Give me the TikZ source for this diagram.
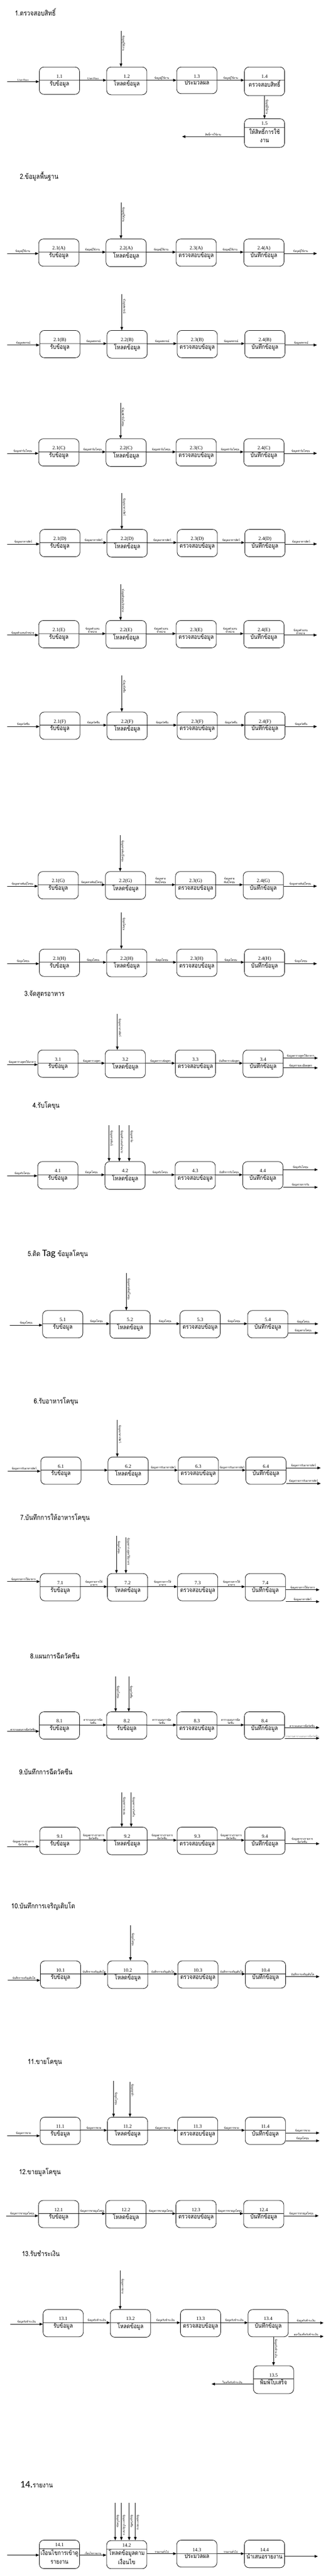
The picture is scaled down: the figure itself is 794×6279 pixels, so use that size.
\documentclass[tikz,border=0pt]{standalone}
\usepackage{fontspec}
\setmainfont{Liberation Serif}
\newfontfamily\thaifont[Script=Thai,FakeStretch=0.85]{Loma}
\newfontfamily\tagfont{Carlito}
\usetikzlibrary{shapes.multipart,arrows.meta}

\newcommand\tRcv{รับข้อมูล}
\newcommand\tLoad{โหลดข้อมูล}
\newcommand\tChk{ตรวจสอบข้อมูล}
\newcommand\tSave{บันทึกข้อมูล}
\newcommand\numfont{\rmfamily\fontsize{12}{14}\selectfont}
\newcommand\numpart[1]{\rule[-5bp]{0pt}{31bp}{\numfont #1}}
\newcommand\numshort[1]{\rule[-5bp]{0pt}{20bp}{\numfont #1}}
\newcommand\numtall[1]{\rule[-5bp]{0pt}{32bp}{\numfont #1}}
\newcommand\txtpart[1]{\rule[-21bp]{0pt}{17bp}#1}
\newcommand\txttwo[2]{\rule[-32bp]{0pt}{17bp}\begin{tabular}[t]{@{}c@{}}#1\\#2\end{tabular}}
\newcommand\fourproc[4]{%
  \foreach \pnum/\ptxt [count=\i] in {#4} {
    \pgfmathsetmacro\cx{#2+{145,309,480,645}[\i-1]}
    \node[proc] (#1\i) at (\cx,#3) {\numpart{\pnum}\nodepart{two}\txtpart{\ptxt}};
  }}
\newcommand\chain[4]{%
  \draw[flow] (#11.text split east) -- (#12.text split west) node[lbl] {#2};
  \draw[flow] (#12.text split east) -- (#13.text split west) node[lbl] {#3};
  \draw[flow] (#13.text split east) -- (#14.text split west) node[lbl] {#4};}

\begin{document}
\begin{tikzpicture}[x=1bp, y=-1bp,
    >={Triangle[length=8bp,width=6.5bp]},
    proc/.style={rectangle split, rectangle split parts=2, draw, line width=1bp,
      rounded corners=11bp, minimum width=98bp, inner xsep=2bp, inner ysep=0bp,
      anchor=north, font=\thaifont\fontsize{15}{21}\selectfont},
    flow/.style={->, line width=1bp},
    lbl/.style={midway, above, inner sep=1bp, align=center, font=\thaifont\fontsize{7}{8}\selectfont},
    vlbl/.style={pos=0.12, rotate=-90, anchor=south west, inner sep=1.5bp, font=\thaifont\fontsize{7}{8}\selectfont},
    ttl/.style={anchor=west, font=\thaifont\fontsize{17}{20}\selectfont}]
\useasboundingbox (0,0) rectangle (794,6279);

% 1. ตรวจสอบสิทธิ์
\node[ttl] (title1) at (33,30) {1.ตรวจสอบสิทธิ์};
\fourproc{auth}{0}{163}{1.1/\tRcv,1.2/\tLoad,1.3/ประมวลผล,1.4/ตรวจสอบสิทธิ์}
\node[proc] (auth5) at (645,289) {\numshort{1.5}\nodepart{two}\txttwo{ให้สิทธิ์การใช้}{งาน}};
\coordinate (authIn) at (17,199);
\coordinate (authFeed) at (295,75);
\coordinate (authOut) at (444,333);
\draw[flow] (authIn) -- (authIn -| auth1.west) node[lbl] {\rmfamily User/Pass};
\chain{auth}{\rmfamily User/Pass}{ข้อมูลผู้ใช้งาน}{ข้อมูลผู้ใช้งาน}
\draw[flow] (authFeed) -- (authFeed |- auth2.north) node[vlbl] {ข้อมูลผู้ใช้งาน};
\draw[flow] (auth4.south) -- (auth5.north) node[vlbl] {ข้อมูลผู้ใช้งาน};
\draw[flow] (authOut -| auth5.west) -- (authOut) node[lbl] {สิทธิ์การใช้งาน};

% 2. ข้อมูลพื้นฐาน
\node[ttl] (title2) at (45,430) {2.ข้อมูลพื้นฐาน};
\fourproc{user}{-1.5}{582}{2.1(A)/\tRcv,2.2(A)/\tLoad,2.3(A)/\tChk,2.4(A)/\tSave}
\coordinate (userIn) at (17,618);
\coordinate (userFeed) at (295,493);
\coordinate (userOut) at (773,618);
\draw[flow] (userIn) -- (userIn -| user1.west) node[lbl] {ข้อมูลผู้ใช้งาน};
\chain{user}{ข้อมูลผู้ใช้งาน}{ข้อมูลผู้ใช้งาน}{ข้อมูลผู้ใช้งาน}
\draw[flow] (userOut -| user4.east) -- (userOut) node[lbl] {ข้อมูลผู้ใช้งาน};
\draw[flow] (userFeed) -- (userFeed |- user2.north) node[vlbl] {ข้อมูลผู้ใช้งาน};

\fourproc{coop}{1}{805}{2.1(B)/\tRcv,2.2(B)/\tLoad,2.3(B)/\tChk,2.4(B)/\tSave}
\coordinate (coopIn) at (17,841);
\coordinate (coopFeed) at (297,717);
\coordinate (coopOut) at (773,841);
\draw[flow] (coopIn) -- (coopIn -| coop1.west) node[lbl] {ข้อมูลสหกรณ์};
\chain{coop}{ข้อมูลสหกรณ์}{ข้อมูลสหกรณ์}{ข้อมูลสหกรณ์}
\draw[flow] (coopOut -| coop4.east) -- (coopOut) node[lbl] {ข้อมูลสหกรณ์};
\draw[flow] (coopFeed) -- (coopFeed |- coop2.north) node[vlbl] {ข้อมูลสหกรณ์};

\fourproc{farm}{-1.5}{1069}{2.1(C)/\tRcv,2.2(C)/\tLoad,2.3(C)/\tChk,2.4(C)/\tSave}
\coordinate (farmIn) at (17,1105);
\coordinate (farmFeed) at (294,982);
\coordinate (farmOut) at (773,1105);
\draw[flow] (farmIn) -- (farmIn -| farm1.west) node[lbl] {ข้อมูลฟาร์มโคขุน};
\chain{farm}{ข้อมูลฟาร์มโคขุน}{ข้อมูลฟาร์มโคขุน}{ข้อมูลฟาร์มโคขุน}
\draw[flow] (farmOut -| farm4.east) -- (farmOut) node[lbl] {ข้อมูลฟาร์มโคขุน};
\draw[flow] (farmFeed) -- (farmFeed |- farm2.north) node[vlbl] {ข้อมูลฟาร์มโคขุน};

\fourproc{fodder}{1}{1290}{2.1(D)/\tRcv,2.2(D)/\tLoad,2.3(D)/\tChk,2.4(D)/\tSave}
\coordinate (fodderIn) at (17,1326);
\coordinate (fodderFeed) at (297,1202);
\coordinate (fodderOut) at (773,1326);
\draw[flow] (fodderIn) -- (fodderIn -| fodder1.west) node[lbl] {ข้อมูลอาหารสัตว์};
\chain{fodder}{ข้อมูลอาหารสัตว์}{ข้อมูลอาหารสัตว์}{ข้อมูลอาหารสัตว์}
\draw[flow] (fodderOut -| fodder4.east) -- (fodderOut) node[lbl] {ข้อมูลอาหารสัตว์};
\draw[flow] (fodderFeed) -- (fodderFeed |- fodder2.north) node[vlbl] {ข้อมูลอาหารสัตว์};

\fourproc{dealer}{-1.5}{1512}{2.1(E)/\tRcv,2.2(E)/\tLoad,2.3(E)/\tChk,2.4(E)/\tSave}
\coordinate (dealerIn) at (17,1548);
\coordinate (dealerFeed) at (294,1424);
\coordinate (dealerOut) at (773,1548);
\draw[flow] (dealerIn) -- (dealerIn -| dealer1.west) node[lbl] {ข้อมูลตัวแทนจำหน่าย};
\chain{dealer}{ข้อมูลตัวแทน\\จำหน่าย}{ข้อมูลตัวแทน\\จำหน่าย}{ข้อมูลตัวแทน\\จำหน่าย}
\draw[flow] (dealerOut -| dealer4.east) -- (dealerOut) node[lbl] {ข้อมูลตัวแทน\\จำหน่าย};
\draw[flow] (dealerFeed) -- (dealerFeed |- dealer2.north) node[vlbl] {ข้อมูลตัวแทนจำหน่าย};

\fourproc{vacc}{1}{1735}{2.1(F)/\tRcv,2.2(F)/\tLoad,2.3(F)/\tChk,2.4(F)/\tSave}
\coordinate (vaccIn) at (17,1771);
\coordinate (vaccFeed) at (297,1646);
\coordinate (vaccOut) at (773,1771);
\draw[flow] (vaccIn) -- (vaccIn -| vacc1.west) node[lbl] {ข้อมูลวัคซีน};
\chain{vacc}{ข้อมูลวัคซีน}{ข้อมูลวัคซีน}{ข้อมูลวัคซีน}
\draw[flow] (vaccOut -| vacc4.east) -- (vaccOut) node[lbl] {ข้อมูลวัคซีน};
\draw[flow] (vaccFeed) -- (vaccFeed |- vacc2.north) node[vlbl] {ข้อมูลวัคซีน};

\fourproc{breed}{-3}{2124}{2.1(G)/\tRcv,2.2(G)/\tLoad,2.3(G)/\tChk,2.4(G)/\tSave}
\coordinate (breedIn) at (17,2160);
\coordinate (breedFeed) at (293,2036);
\coordinate (breedOut) at (773,2160);
\draw[flow] (breedIn) -- (breedIn -| breed1.west) node[lbl] {ข้อมูลสายพันธุ์โคขุน};
\chain{breed}{ข้อมูลสายพันธุ์โคขุน}{ข้อมูลสาย\\พันธุ์โคขุน}{ข้อมูลสาย\\พันธุ์โคขุน}
\draw[flow] (breedOut -| breed4.east) -- (breedOut) node[lbl] {ข้อมูลสายพันธุ์โคขุน};
\draw[flow] (breedFeed) -- (breedFeed |- breed2.north) node[vlbl] {ข้อมูลสายพันธุ์โคขุน};

\fourproc{cattle}{0}{2313}{2.1(H)/\tRcv,2.2(H)/\tLoad,2.3(H)/\tChk,2.4(H)/\tSave}
\coordinate (cattleIn) at (17,2349);
\coordinate (cattleFeed) at (296,2224);
\coordinate (cattleOut) at (773,2349);
\draw[flow] (cattleIn) -- (cattleIn -| cattle1.west) node[lbl] {ข้อมูลโคขุน};
\chain{cattle}{ข้อมูลโคขุน}{ข้อมูลโคขุน}{ข้อมูลโคขุน}
\draw[flow] (cattleOut -| cattle4.east) -- (cattleOut) node[lbl] {ข้อมูลโคขุน};
\draw[flow] (cattleFeed) -- (cattleFeed |- cattle2.north) node[vlbl] {ข้อมูลโคขุน};

% 3. จัดสูตรอาหาร
\node[ttl] (title3) at (56,2424) {3.จัดสูตรอาหาร};
\fourproc{formula}{-3.5}{2559}{3.1/\tRcv,3.2/\tLoad,3.3/\tChk,3.4/\tSave}
\coordinate (formulaIn) at (17,2595);
\coordinate (formulaFeed) at (286,2471);
\coordinate (formulaOutA) at (775,2579);
\coordinate (formulaOutB) at (775,2603);
\draw[flow] (formulaIn) -- (formulaIn -| formula1.west) node[lbl] {ข้อมูลตารางสูตรให้อาหาร};
\chain{formula}{ข้อมูลตารางสูตร}{ข้อมูลตารางจัดสูตร}{บันทึกตารางจัดสูตร}
\draw[flow] (formulaOutA -| formula4.east) -- (formulaOutA) node[lbl] {ข้อมูลตารางสูตรให้อาหาร};
\draw[flow] (formulaOutB -| formula4.east) -- (formulaOutB) node[lbl] {ข้อมูลรายละเอียดสูตร};
\draw[flow] (formulaFeed) -- (formulaFeed |- formula2.north) node[vlbl] {ข้อมูลอาหารสัตว์};

% 4. รับโคขุน
\node[ttl] (title4) at (76,2695) {4.รับโคขุน};
\fourproc{recv}{-4}{2831}{4.1/\tRcv,4.2/\tLoad,4.3/\tChk,4.4/\tSave}
\coordinate (recvIn) at (17,2866);
\coordinate (recvFeedA) at (266,2743);
\coordinate (recvFeedB) at (291,2743);
\coordinate (recvFeedC) at (315,2743);
\coordinate (recvOutA) at (775,2851);
\coordinate (recvOutB) at (775,2894);
\draw[flow] (recvIn) -- (recvIn -| recv1.west) node[lbl] {ข้อมูลรับโคขุน};
\chain{recv}{ข้อมูลโคขุน}{ข้อมูลรับโคขุน}{บันทึกการรับโคขุน}
\draw[flow] (recvOutA -| recv4.east) -- (recvOutA) node[lbl] {ข้อมูลรับโคขุน};
\draw[flow] (recvOutB -| recv4.east) -- (recvOutB) node[lbl] {ข้อมูลรายการรับ};
\draw[flow] (recvFeedA) -- (recvFeedA |- recv2.north) node[vlbl] {ข้อมูลสายพันธุ์};
\draw[flow] (recvFeedB) -- (recvFeedB |- recv2.north) node[vlbl] {ข้อมูลตัวแทนจำหน่าย};
\draw[flow] (recvFeedC) -- (recvFeedC |- recv2.north) node[vlbl] {ข้อมูลฟาร์ม};

% 5. ติด Tag
\node[ttl] (title5) at (64,3057) {5.ติด {\tagfont\fontsize{24}{26}\selectfont Tag} ข้อมูลโคขุน};
\fourproc{tag}{8}{3194}{5.1/\tRcv,5.2/\tLoad,5.3/\tChk,5.4/\tSave}
\coordinate (tagIn) at (24,3230);
\coordinate (tagFeed) at (308,3103);
\coordinate (tagOutA) at (776,3227);
\coordinate (tagOutB) at (776,3249);
\draw[flow] (tagIn) -- (tagIn -| tag1.west) node[lbl] {ข้อมูลโคขุน};
\chain{tag}{ข้อมูลโคขุน}{ข้อมูลโคขุน}{ข้อมูลโคขุน}
\draw[flow] (tagOutA -| tag4.east) -- (tagOutA) node[lbl] {ข้อมูลโคขุน};
\draw[flow] (tagOutB -| tag4.east) -- (tagOutB) node[lbl] {ข้อมูลสายโคขุน};
\draw[flow] (tagFeed) -- (tagFeed |- tag2.north) node[vlbl] {ข้อมูลสายพันธุ์โคขุน};

% 6. รับอาหารโคขุน
\node[ttl] (title6) at (79,3416) {6.รับอาหารโคขุน};
\fourproc{food}{3.5}{3551}{6.1/\tRcv,6.2/\tLoad,6.3/\tChk,6.4/\tSave}
\coordinate (foodIn) at (19,3586);
\coordinate (foodFeed) at (286,3461);
\coordinate (foodOutA) at (782,3578);
\coordinate (foodOutB) at (782,3616);
\draw[flow] (foodIn) -- (foodIn -| food1.west) node[lbl] {ข้อมูลการรับอาหารสัตว์};
\draw[flow] (food1.text split east) -- (food2.text split west);
\draw[flow] (food2.text split east) -- (food3.text split west) node[lbl] {ข้อมูลการรับอาหารสัตว์};
\draw[flow] (food3.text split east) -- (food4.text split west) node[lbl] {ข้อมูลการรับอาหารสัตว์};
\draw[flow] (foodOutA -| food4.east) -- (foodOutA) node[lbl] {ข้อมูลการรับอาหารสัตว์};
\draw[flow] (foodOutB -| food4.east) -- (foodOutB) node[lbl] {ข้อมูลรายการรับอาหารสัตว์};
\draw[flow] (foodFeed) -- (foodFeed |- food2.north) node[vlbl] {ข้อมูลอาหารสัตว์};

% 7. บันทึกการให้อาหารโคขุน
\node[ttl] (title7) at (46,3700) {7.บันทึกการให้อาหารโคขุน};
\fourproc{feedlog}{2}{3835}{7.1/\tRcv,7.2/\tLoad,7.3/\tChk,7.4/\tSave}
\coordinate (feedlogIn) at (17,3855);
\coordinate (feedlogFeedA) at (284,3744);
\coordinate (feedlogFeedB) at (307,3747);
\coordinate (feedlogOutA) at (779,3875);
\coordinate (feedlogOutB) at (779,3904);
\draw[flow] (feedlogIn) -- (feedlogIn -| feedlog1.west) node[lbl] {ข้อมูลรายการให้อาหาร};
\chain{feedlog}{ข้อมูลรายการให้\\อาหาร}{ข้อมูลรายการให้\\อาหาร}{ข้อมูลรายการให้\\อาหาร}
\draw[flow] (feedlogOutA -| feedlog4.east) -- (feedlogOutA) node[lbl] {ข้อมูลรายการให้อาหาร};
\draw[flow] (feedlogOutB -| feedlog4.east) -- (feedlogOutB) node[lbl] {ข้อมูลอาหารสัตว์};
\draw[flow] (feedlogFeedA) -- (feedlogFeedA |- feedlog2.north) node[vlbl] {ข้อมูลโคขุน};
\draw[flow] (feedlogFeedB) -- (feedlogFeedB |- feedlog2.north) node[vlbl, pos=0] {ข้อมูลตารางสูตรให้อาหาร};

% 8. แผนการฉีดวัคซีน
\node[ttl] (title8) at (70,4036) {8.แผนการฉีดวัคซีน};
\fourproc{vplan}{0}{4172}{8.1/\tRcv,8.2/\tRcv,8.3/\tChk,8.4/\tSave}
\coordinate (vplanIn) at (17,4220);
\coordinate (vplanFeedA) at (282,4086);
\coordinate (vplanFeedB) at (314,4086);
\coordinate (vplanOutA) at (779,4211);
\coordinate (vplanOutB) at (779,4237);
\draw[flow] (vplanIn) -- (vplanIn -| vplan1.west) node[lbl] {ตารางแผนการฉีดวัคซีน};
\chain{vplan}{ตารางแผนการฉีด\\วัคซีน}{ตารางแผนการฉีด\\วัคซีน}{ตารางแผนการฉีด\\วัคซีน}
\draw[flow] (vplanOutA -| vplan4.east) -- (vplanOutA) node[lbl] {ตารางแผนการฉีดวัคซีน};
\draw[flow] (vplanOutB -| vplan4.east) -- (vplanOutB) node[lbl, text=gray] {รายงานตารางแผนการฉีดวัคซีน};
\draw[flow] (vplanFeedA) -- (vplanFeedA |- vplan2.north) node[vlbl, pos=0.25] {ข้อมูลโคขุน};
\draw[flow] (vplanFeedB) -- (vplanFeedB |- vplan2.north) node[vlbl, pos=0.25] {ข้อมูลวัคซีน};

% 9. บันทึกการฉีดวัคซีน
\node[ttl] (title9) at (43,4319) {9.บันทึกการฉีดวัคซีน};
\fourproc{vlog}{1}{4453}{9.1/\tRcv,9.2/\tLoad,9.3/\tChk,9.4/\tSave}
\coordinate (vlogIn) at (17,4501);
\coordinate (vlogFeedA) at (297,4369);
\coordinate (vlogFeedB) at (320,4369);
\coordinate (vlogOut) at (779,4494);
\draw[flow] (vlogIn) -- (vlogIn -| vlog1.west) node[lbl] {ข้อมูลตารางรายการ\\ฉีดวัคซีน};
\chain{vlog}{ข้อมูลตารางรายการ\\ฉีดวัคซีน}{ข้อมูลตารางรายการ\\ฉีดวัคซีน}{ข้อมูลตารางรายการ\\ฉีดวัคซีน}
\draw[flow] (vlogOut -| vlog4.east) -- (vlogOut) node[lbl] {ข้อมูลตารางรายการ\\ฉีดวัคซีน};
\draw[flow] (vlogFeedA) -- (vlogFeedA |- vlog2.north) node[vlbl] {ข้อมูลตารางแผน};
\draw[flow] (vlogFeedB) -- (vlogFeedB |- vlog2.north) node[vlbl] {ข้อมูลตารางวัคซีน};

% 10. บันทึกการเจริญเติบโต
\node[ttl] (title10) at (24,4646) {10.บันทึกการเจริญเติบโต};
\fourproc{grow}{2.5}{4779}{10.1/\tRcv,10.2/\tLoad,10.3/\tChk,10.4/\tSave}
\coordinate (growIn) at (19,4827);
\coordinate (growFeed) at (318,4693);
\coordinate (growOut) at (779,4818);
\draw[flow] (growIn) -- (growIn -| grow1.west) node[lbl] {บันทึกการเจริญเติบโต};
\chain{grow}{บันทึกการเจริญเติบโต}{บันทึกการเจริญเติบโต}{บันทึกการเจริญเติบโต}
\draw[flow] (growOut -| grow4.east) -- (growOut) node[lbl] {บันทึกการเจริญเติบโต};
\draw[flow] (growFeed) -- (growFeed |- grow2.north) node[vlbl, pos=0.2] {ข้อมูลโคขุน};

% 11. ขายโคขุน
\node[ttl] (title11) at (64,5026) {11.ขายโคขุน};
\fourproc{sale}{2}{5160}{11.1/\tRcv,11.2/\tLoad,11.3/\tChk,11.4/\tSave}
\coordinate (saleIn) at (17,5206);
\coordinate (saleFeedA) at (277,5072);
\coordinate (saleFeedB) at (317,5074);
\coordinate (saleOutA) at (779,5199);
\coordinate (saleOutB) at (779,5218);
\draw[flow] (saleIn) -- (saleIn -| sale1.west) node[lbl] {ข้อมูลการขาย};
\chain{sale}{ข้อมูลการขาย}{ข้อมูลการขาย}{ข้อมูลการขาย}
\draw[flow] (saleOutA -| sale4.east) -- (saleOutA) node[lbl] {ข้อมูลการขาย};
\draw[flow] (saleOutB -| sale4.east) -- (saleOutB) node[lbl] {ข้อมูลโคขุน};
\draw[flow] (saleFeedA) -- (saleFeedA |- sale2.north) node[vlbl, pos=0.3] {ข้อมูลโคขุน};
\draw[flow] (saleFeedB) -- (saleFeedB |- sale2.north) node[vlbl, pos=0.05] {ข้อมูลลูกค้า};

% 12. ขายมูลโคขุน
\node[ttl] (title12) at (43,5294) {12.ขายมูลโคขุน};
\fourproc{dung}{-2}{5363}{12.1/\tRcv,12.2/\tLoad,12.3/\tChk,12.4/\tSave}
\coordinate (dungIn) at (15,5401);
\coordinate (dungOut) at (777,5401);
\draw[flow] (dungIn) -- (dungIn -| dung1.west) node[lbl] {ข้อมูลการขายมูลโคขุน};
\chain{dung}{ข้อมูลการขายมูลโคขุน}{ข้อมูลการขายมูลโคขุน}{ข้อมูลการขายมูลโคขุน}
\draw[flow] (dungOut -| dung4.east) -- (dungOut) node[lbl] {ข้อมูลการขายมูลโคขุน};

% 13. รับชำระเงิน
\node[ttl] (title13) at (50,5493) {13.รับชำระเงิน};
\fourproc{pay}{9}{5629}{13.1/\tRcv,13.2/\tLoad,13.3/\tChk,13.4/\tSave}
\node[proc] (pay5) at (667,5766) {\numpart{13.5}\nodepart{two}\txtpart{พิมพ์ใบเสร็จ}};
\coordinate (payIn) at (25,5665);
\coordinate (payFeed) at (293,5534);
\coordinate (payOutA) at (789,5662);
\coordinate (payOutB) at (789,5695);
\coordinate (payBill) at (516,5811);
\draw[flow] (payIn) -- (payIn -| pay1.west) node[lbl] {ข้อมูลรับชำระเงิน};
\chain{pay}{ข้อมูลรับชำระเงิน}{ข้อมูลรับชำระเงิน}{ข้อมูลรับชำระเงิน}
\draw[flow] (payOutA -| pay4.east) -- (payOutA) node[lbl] {ข้อมูลรับชำระเงิน};
\draw[flow] (payOutB -| pay4.east) -- (payOutB) node[lbl] {ออกใบเสร็จรับชำระเงิน};
\draw[flow] (payFeed) -- (payFeed |- pay2.north) node[vlbl, pos=0.2] {ข้อมูลการขาย};
\draw[flow] (pay4.south -| pay5.north) -- (pay5.north) node[vlbl, pos=0.05] {ข้อมูลรับชำระเงิน};
\draw[flow] (payBill -| pay5.west) -- (payBill) node[lbl] {ใบเสร็จรับชำระเงิน};

% 14. รายงาน
\node[ttl] (title14) at (46,6056) {{\tagfont\fontsize{24}{26}\selectfont 14.}รายงาน};
\node[proc] (rpt1) at (145,6191) {\numshort{14.1}\nodepart{two}\txttwo{เงื่อนไขการเข้าดู}{รายงาน}};
\node[proc] (rpt2) at (309,6192) {\numshort{14.2}\nodepart{two}\txttwo{โหลดข้อมูลตาม}{เงื่อนไข}};
\node[proc] (rpt3) at (480,6191) {\numtall{14.3}\nodepart{two}\txtpart{ประมวลผล}};
\node[proc] (rpt4) at (645,6191) {\numtall{14.4}\nodepart{two}\txtpart{นำเสนอรายงาน}};
\coordinate (rptIn) at (17,6228);
\coordinate (rptFeedA) at (281,6101);
\coordinate (rptFeedB) at (296,6101);
\coordinate (rptFeedC) at (315,6101);
\coordinate (rptFeedD) at (330,6101);
\coordinate (rptOut) at (775,6231);
\draw[flow] (rptIn) -- (rptIn -| rpt1.west);
\draw[flow] (rptIn -| rpt1.east) -- (rptIn -| rpt2.west) node[lbl] {เงื่อนไขรายงาน};
\draw[flow] (rpt2.east |- rpt3.text split west) -- (rpt3.text split west) node[lbl] {รายงานทั่วไป};
\draw[flow] (rpt3.text split east) -- (rpt4.text split west) node[lbl] {รายงานทั่วไป};
\draw[flow] (rptOut -| rpt4.east) -- (rptOut);
\draw[flow] (rptFeedA) -- (rptFeedA |- rpt2.north) node[vlbl, pos=0.3] {ข้อมูลโคขุน};
\draw[flow] (rptFeedB) -- (rptFeedB |- rpt2.north) node[vlbl, pos=0.3] {ข้อมูลการให้อาหาร};
\draw[flow] (rptFeedC) -- (rptFeedC |- rpt2.north) node[vlbl, pos=0.3] {ข้อมูลวัคซีน};
\draw[flow] (rptFeedD) -- (rptFeedD |- rpt2.north) node[vlbl, pos=0.3] {ข้อมูลการขาย};
\end{tikzpicture}
\end{document}
